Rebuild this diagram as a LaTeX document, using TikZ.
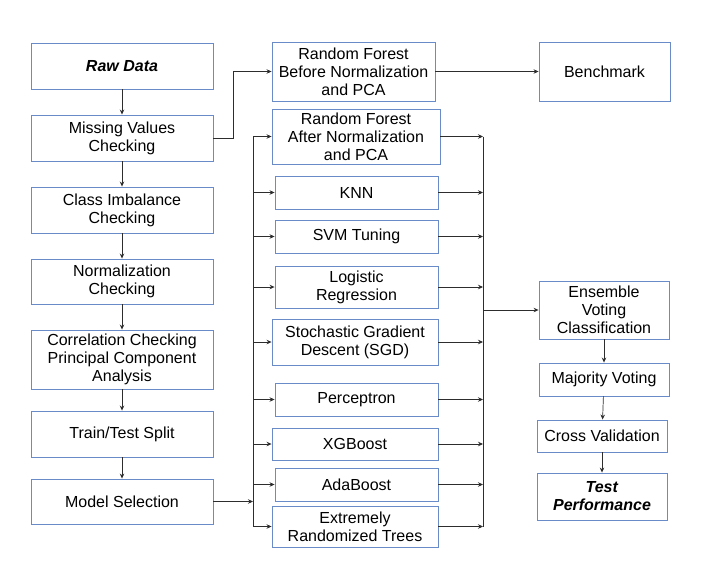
\documentclass[tikz,border=0pt]{standalone}
\usepackage{fontspec}
\setmainfont{Liberation Sans}
\usetikzlibrary{arrows.meta}

\definecolor{boxblue}{RGB}{105,140,200}
\definecolor{linegray}{RGB}{45,45,45}

\tikzset{
  stage/.style={draw=boxblue, line width=0.9pt, align=center, inner sep=0pt,
    font=\fontsize{16}{18}\selectfont},
  flow/.style={draw=linegray, line width=0.7pt, -{Stealth[length=5pt,width=4.5pt]}},
  wire/.style={draw=linegray, line width=0.7pt}
}

\begin{document}
\begin{tikzpicture}[x=1pt,y=-1pt]
    \useasboundingbox (0,0) rectangle (706,570);

    % preprocessing column
    \node[stage, minimum width=182, minimum height=46] (raw) at (122,66) {\textbf{\textit{Raw Data}}};
    \node[stage, minimum width=182, minimum height=46] (missing) at (122,138) {Missing Values\\Checking};
    \node[stage, minimum width=182, minimum height=46] (imbal) at (122,210) {Class Imbalance\\Checking};
    \node[stage, minimum width=182, minimum height=45] (norm) at (122,281.5) {Normalization\\Checking};
    \node[stage, minimum width=182, minimum height=59] (corr) at (122,359.5) {Correlation Checking\\Principal Component\\Analysis};
    \node[stage, minimum width=182, minimum height=46] (split) at (122,434) {Train/Test Split};
    \node[stage, minimum width=182, minimum height=45] (model) at (122,501.5) {Model Selection};

    % models
    \node[stage, minimum width=163, minimum height=59] (rfb) at (353.5,71.5) {Random Forest\\Before Normalization\\and PCA};
    \node[stage, minimum width=168, minimum height=55] (rfa) at (356,136.5) {Random Forest\\After Normalization\\and PCA};
    \node[stage, minimum width=163, minimum height=33] (knn) at (356.5,192.5) {KNN};
    \node[stage, minimum width=163, minimum height=33] (svm) at (356.5,236.5) {SVM Tuning};
    \node[stage, minimum width=163, minimum height=42] (logit) at (356.5,287) {Logistic\\Regression};
    \node[stage, minimum width=166, minimum height=46] (sgd) at (355,342) {Stochastic Gradient\\Descent (SGD)};
    \node[stage, minimum width=163, minimum height=33] (perc) at (356.5,399.5) {Perceptron};
    \node[stage, minimum width=166, minimum height=32] (xgb) at (355,444) {XGBoost};
    \node[stage, minimum width=163, minimum height=33] (ada) at (356.5,484.5) {AdaBoost};
    \node[stage, minimum width=166, minimum height=41] (extra) at (355,526.5) {Extremely\\Randomized Trees};

    % evaluation column
    \node[stage, minimum width=131, minimum height=59] (bench) at (604.5,71.5) {Benchmark};
    \node[stage, minimum width=130, minimum height=58] (ens) at (604,310) {Ensemble\\Voting\\Classification};
    \node[stage, minimum width=130, minimum height=33] (major) at (604,379.5) {Majority Voting};
    \node[stage, minimum width=130, minimum height=32] (cross) at (602,436) {Cross Validation};
    \node[stage, minimum width=130, minimum height=47] (test) at (602,496.5) {\textbf{\textit{Test}}\\\textbf{\textit{Performance}}};

    \coordinate (lbus) at (253,0);
    \coordinate (rbus) at (483,0);

    % main chain
    \draw[flow] (raw) -- (missing);
    \draw[flow] (missing) -- (imbal);
    \draw[flow] (imbal) -- (norm);
    \draw[flow] (norm) -- (corr);
    \draw[flow] (corr) -- (split);
    \draw[flow] (split) -- (model);

    \draw[flow] (missing.east) -- ++(20,0) |- (rfb.west);
    \draw[flow] (rfb) -- (bench);

    % buses
    \draw[flow] (model.east) -- (model.east -| lbus);
    \draw[wire] (rfa.west -| lbus) -- (extra.west -| lbus);
    \draw[wire] (rfa.east -| rbus) -- (extra.east -| rbus);
    \foreach \m in {rfa,knn,svm,logit,sgd,perc,xgb,ada,extra} {
      \draw[flow] (\m.west -| lbus) -- (\m.west);
      \draw[flow] (\m.east) -- (\m.east -| rbus);
    }
    \draw[flow] (ens.west -| rbus) -- (ens.west);

    \draw[flow] (ens) -- (major);
    \draw[flow] (major) -- (cross);
    \draw[flow] (cross) -- (test);
\end{tikzpicture}
\end{document}
